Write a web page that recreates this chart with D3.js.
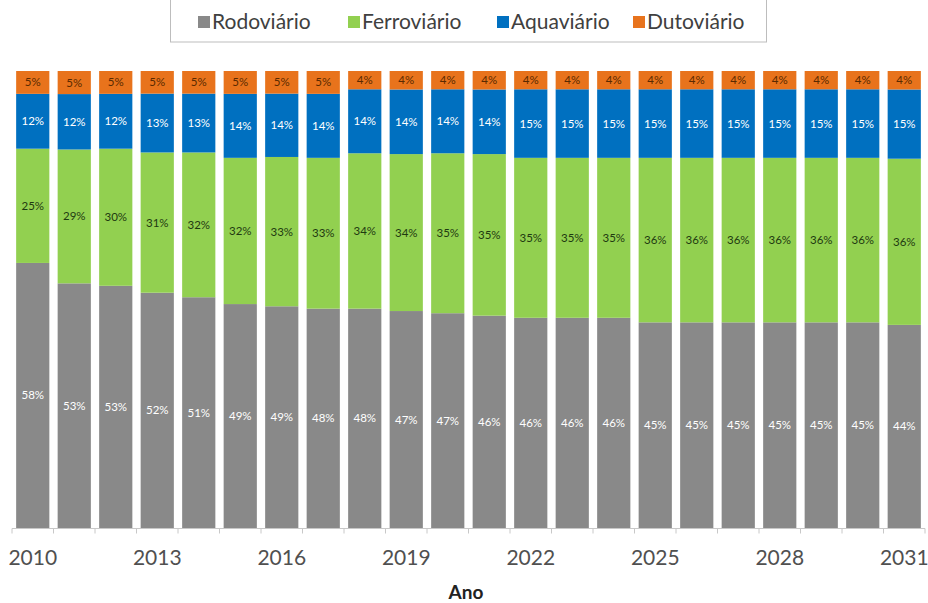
<!DOCTYPE html>
<html>
<head>
<meta charset="utf-8">
<script src="https://cdn.jsdelivr.net/npm/d3@7"></script>
<style>
  html, body { margin: 0; padding: 0; background: #fff; }
  #chart { width: 928px; height: 603px; overflow: hidden; }
  text { font-family: Lato, "Open Sans", sans-serif; }
</style>
</head>
<body>
<div id="chart"></div>
<script>
// Matriz de transporte de cargas — participação por modal (%)
const years = d3.range(2010, 2032).map(String);
const tickYears = ["2010", "2013", "2016", "2019", "2022", "2025", "2028", "2031"];
const modes = ["Rodoviário", "Ferroviário", "Aquaviário", "Dutoviário"];
const rodoviario  = [58, 53, 53, 52, 51, 49, 49, 48, 48, 47, 47, 46, 46, 46, 46, 45, 45, 45, 45, 45, 45, 44];
const ferroviario = [25, 29, 30, 31, 32, 32, 33, 33, 34, 34, 35, 35, 35, 35, 35, 36, 36, 36, 36, 36, 36, 36];
const aquaviario  = [12, 12, 12, 13, 13, 14, 14, 14, 14, 14, 14, 14, 15, 15, 15, 15, 15, 15, 15, 15, 15, 15];
const dutoviario  = [5, 5, 5, 5, 5, 5, 5, 5, 4, 4, 4, 4, 4, 4, 4, 4, 4, 4, 4, 4, 4, 4];
const colors = ["#898989", "#92d050", "#0070c0", "#e8731c"];
const labelColors = ["#ffffff", "#1f3a10", "#ffffff", "#5a2a00"];

(() => {
    const W = 928, H = 603;
    const svg = d3.select("#chart").append("svg").attr("width", W).attr("height", H);

    const rows = years.map((y, i) => ({
        year: y,
        "Rodoviário": rodoviario[i],
        "Ferroviário": ferroviario[i],
        "Aquaviário": aquaviario[i],
        "Dutoviário": dutoviario[i]
    }));

    const series = d3.stack().keys(modes).offset(d3.stackOffsetExpand)(rows);

    const x = d3.scaleBand().domain(years).range([12, 925]).paddingInner(0.2).paddingOuter(0.1);
    const y = d3.scaleLinear().domain([0, 1]).range([528, 71]);
    const color = d3.scaleOrdinal().domain(modes).range(colors);

    // bars
    const layer = svg.append("g").selectAll("g")
        .data(series)
        .join("g")
        .attr("fill", d => color(d.key));

    layer.selectAll("rect")
        .data(d => d)
        .join("rect")
        .attr("x", d => x(d.data.year))
        .attr("y", d => y(d[1]))
        .attr("width", x.bandwidth())
        .attr("height", d => y(d[0]) - y(d[1]));

    // data labels
    series.forEach((s, si) => {
        svg.append("g").selectAll("text")
            .data(s)
            .join("text")
            .attr("x", d => x(d.data.year) + x.bandwidth() / 2)
            .attr("y", d => (y(d[0]) + y(d[1])) / 2)
            .attr("dy", "0.35em")
            .attr("text-anchor", "middle")
            .attr("font-size", 11.5)
            .attr("fill", labelColors[si])
            .text(d => d.data[s.key] + "%");
    });

    // x axis (ticks at category boundaries)
    const ax = svg.append("g").attr("transform", "translate(0,528.5)");
    ax.append("line")
        .attr("x1", x.range()[0]).attr("x2", x.range()[1])
        .attr("stroke", "#c8c8c8");
    ax.selectAll("line.tick")
        .data(years.concat(["end"]))
        .join("line")
        .attr("class", "tick")
        .attr("x1", (d, i) => x.range()[0] + i * x.step())
        .attr("x2", (d, i) => x.range()[0] + i * x.step())
        .attr("y1", 0).attr("y2", 5)
        .attr("stroke", "#c8c8c8");
    ax.selectAll("text")
        .data(tickYears)
        .join("text")
        .attr("x", d => x(d) + x.bandwidth() / 2)
        .attr("y", 36)
        .attr("text-anchor", "middle")
        .attr("font-size", 21)
        .attr("fill", "#505050")
        .text(d => d);

    svg.append("text")
        .attr("x", 466).attr("y", 599)
        .attr("text-anchor", "middle")
        .attr("font-size", 19)
        .attr("font-weight", "bold")
        .attr("fill", "#222")
        .text("Ano");

    // legend
    const lg = svg.append("g");
    lg.append("rect")
        .attr("x", 170.5).attr("y", -6)
        .attr("width", 596).attr("height", 48)
        .attr("fill", "#fff")
        .attr("stroke", "#bdbdbd");
    const legendX = [198, 348, 497, 633];
    const item = lg.selectAll("g.item")
        .data(modes)
        .join("g")
        .attr("class", "item")
        .attr("transform", (d, i) => `translate(${legendX[i]},22)`);
    item.append("rect")
        .attr("x", 0).attr("y", -6)
        .attr("width", 12).attr("height", 12)
        .attr("fill", d => color(d));
    item.append("text")
        .attr("x", 14).attr("dy", "0.35em")
        .attr("font-size", 21)
        .attr("fill", "#404040")
        .text(d => d);
})();
</script>
</body>
</html>
